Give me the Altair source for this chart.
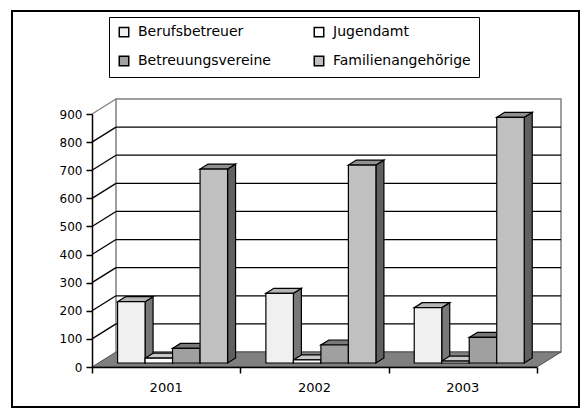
import altair as alt
import pandas as pd

# ---------------- data ----------------
years = ["2001", "2002", "2003"]
series = ["Berufsbetreuer", "Jugendamt", "Betreuungsvereine", "Familienangehörige"]
berufsbetreuer = [218, 248, 197]
jugendamt = [17, 11, 7]
betreuungsvereine = [52, 64, 91]
familienangehoerige = [690, 704, 874]
y_ticks = [0, 100, 200, 300, 400, 500, 600, 700, 800, 900]

front_colors = ["#f0f0f0", "#ffffff", "#a0a0a0", "#c0c0c0"]
top_colors = ["#b4b4b4", "#c8c8c8", "#787878", "#909090"]
side_colors = ["#787878", "#808080", "#505050", "#606060"]

# legend is filled column by column: order so rows read as in the original
legend_order = [series[0], series[2], series[1], series[3]]
legend_colors = [front_colors[0], front_colors[2], front_colors[1], front_colors[3]]

# ---------------- geometry helpers (pixel -> data units) ----------------
W, H = 445, 253
YMAX = 900
NCAT = len(years)
PXX = W / NCAT
PXY = H / YMAX


def ux(px):
    return px / PXX


def uy(px):
    return px / PXY


WDX, WDY = ux(24), uy(15)      # wall depth
FDX, FDY = ux(6.4), uy(4)      # bars' front plane depth
BDX, BDY = ux(8), uy(5)        # bar depth
BW = ux(27.5)                  # bar width

values = [berufsbetreuer, jugendamt, betreuungsvereine, familienangehoerige]

front, tops, sides = [], [], []
for i, yr in enumerate(years):
    for k, s in enumerate(series):
        v = values[k][i]
        bid = f"{yr}-{k}"
        x0 = i + 0.5 - 2 * BW + k * BW + FDX
        x1 = x0 + BW
        y0 = FDY
        y1 = v + FDY
        front.append(dict(id=bid, series=s, x0=x0, x1=x1, y0=y0, y1=y1))
        tops.append(dict(id=bid, fill=top_colors[k], y=y1, xa=x0, xb=x1))
        tops.append(dict(id=bid, fill=top_colors[k], y=y1 + BDY, xa=x0 + BDX, xb=x1 + BDX))
        sides.append(dict(id=bid, fill=side_colors[k], x=x1, ya=y0, yb=y1))
        sides.append(dict(id=bid, fill=side_colors[k], x=x1 + BDX, ya=y0 + BDY, yb=y1 + BDY))

front_df = pd.DataFrame(front)
tops_df = pd.DataFrame(tops)
sides_df = pd.DataFrame(sides)

floor_df = pd.DataFrame([
    dict(y=0, xa=0, xb=NCAT),
    dict(y=WDY, xa=WDX, xb=NCAT + WDX),
])
wall_df = pd.DataFrame([dict(xa=WDX, xb=NCAT + WDX, ya=WDY, yb=YMAX + WDY)])
grid_df = pd.DataFrame([dict(y=t + WDY, xa=WDX, xb=NCAT + WDX) for t in y_ticks[1:-1]])
diag_df = pd.DataFrame([dict(v=t, xa=0, xb=WDX, ya=t, yb=t + WDY,
                             c="#808080" if t == YMAX else "black") for t in y_ticks[1:]])
year_df = pd.DataFrame([dict(year=y, xc=i + 0.5) for i, y in enumerate(years)])
one = pd.DataFrame([dict(a=1)])

xs = alt.Scale(domain=[0, NCAT], nice=False, zero=False)
ys = alt.Scale(domain=[0, YMAX], nice=False, zero=False)

FONT = "DejaVu Sans"

y_axis = alt.Axis(
    values=y_ticks, title=None, grid=False, zindex=1,
    domainColor="black", domainWidth=1.5, tickColor="black", tickWidth=1.5,
    tickSize=6, labelFont=FONT, labelFontSize=12, labelColor="black", labelPadding=4)
x_axis = alt.Axis(
    values=[0, 1, 2, 3], title=None, grid=False, labels=False, zindex=1,
    domainColor="black", domainWidth=1.5, tickColor="black", tickWidth=1.5, tickSize=6)


def X(f, **kw):
    return alt.X(f, type="quantitative", scale=xs, axis=x_axis, **kw)


def Y(f, **kw):
    return alt.Y(f, type="quantitative", scale=ys, axis=y_axis, **kw)


frame = alt.Chart(one).mark_rect(filled=False, stroke="black", strokeWidth=2).encode(
    x=alt.value(-80), x2=alt.value(487), y=alt.value(-103), y2=alt.value(293)
)

wall = alt.Chart(wall_df).mark_rect(fill="white", stroke="#808080", strokeWidth=1.5).encode(
    x=X("xa"), x2="xb", y=Y("ya"), y2="yb"
)

grid = alt.Chart(grid_df).mark_rule(color="black", strokeWidth=1.3).encode(
    x=X("xa"), x2="xb", y=Y("y")
)

diag = alt.Chart(diag_df).mark_rule(strokeWidth=1.3).encode(
    x=X("xa"), x2="xb", y=Y("ya"), y2="yb", color=alt.Color("c:N", scale=None)
)

floor = alt.Chart(floor_df).mark_area(
    orient="horizontal", color="#808080", stroke="#505050", strokeWidth=1
).encode(
    y=Y("y"), x=X("xa", stack=None), x2="xb",
)

side_layer = alt.Chart(sides_df).mark_area(stroke="black", strokeWidth=1.2, strokeJoin="miter").encode(
    x=X("x"), y=Y("ya", stack=None), y2="yb", detail="id:N",
    fill=alt.Fill("fill:N", scale=None)
)

top_layer = alt.Chart(tops_df).mark_area(orient="horizontal", stroke="black", strokeWidth=1.2,
                                         strokeJoin="miter").encode(
    y=Y("y"), x=X("xa", stack=None), x2="xb", detail="id:N",
    fill=alt.Fill("fill:N", scale=None)
)

front_layer = alt.Chart(front_df).mark_rect(stroke="black", strokeWidth=1.2).encode(
    x=X("x0"), x2="x1", y=Y("y0"), y2="y1",
    fill=alt.Fill("series:N", scale=alt.Scale(domain=legend_order, range=legend_colors),
                  legend=alt.Legend(
                      orient="none", legendX=17, legendY=-97, columns=2, title=None,
                      symbolType="square", symbolSize=90, symbolStrokeColor="black",
                      symbolStrokeWidth=1.5, labelFont=FONT, labelFontSize=14,
                      labelColor="black", labelOffset=7, columnPadding=40, rowPadding=13,
                      padding=8, strokeColor="black"))
)

year_labels = alt.Chart(year_df).mark_text(font=FONT, fontSize=13, color="black",
                                           baseline="middle").encode(
    x=X("xc"), y=alt.value(H + 21), text="year:N"
)

chart = alt.layer(
    frame, wall, grid, diag, floor, side_layer, top_layer, front_layer, year_labels
).properties(
    width=W, height=H,
    padding={"left": 84, "top": 106, "right": 43, "bottom": 41},
    autosize=alt.AutoSizeParams(type="none"),
).configure_view(stroke=None)

chart.save("out.html", embed_options={"renderer": "svg", "actions": False})
